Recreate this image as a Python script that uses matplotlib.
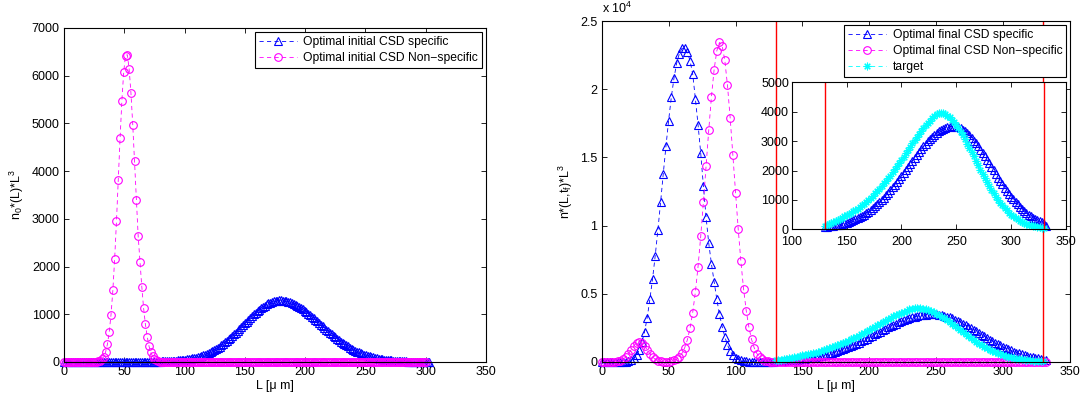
import numpy as np
import matplotlib
matplotlib.use('Agg')
import matplotlib.pyplot as plt

plt.rcParams['font.family'] = ['Liberation Sans', 'DejaVu Sans']
plt.rcParams['mathtext.default'] = 'regular'

# 颜色 (MATLAB 风格)
c_spec = '#0000FF'
c_nonspec = '#FF00FF'
c_target = '#00FFFF'
c_red = '#FF0000'

# ---------------- 数据 ----------------
# 左图: 初始 CSD, 横坐标网格
L_left_nonspec = np.linspace(0, 300, 201)
L_left_spec = np.linspace(0, 303, 203)

left_nonspec = [0] * 16 + [
    1, 2, 6, 13, 28, 58, 113, 210, 372, 625,
    995, 1500, 2160, 2945, 3810, 4690, 5480, 6075, 6420, 6440,
    6145, 5640, 4975, 4205, 3405, 2640, 2100, 1580, 1130, 790,
    530, 330, 200, 115, 62, 32, 16, 8, 4, 2] + [0] * 145

left_spec = [0] * 32 + [
    0, 0, 1, 1, 1, 1, 1, 2, 2, 2,
    2, 3, 3, 3, 4, 4, 5, 6, 7, 8,
    9, 10, 12, 14, 16, 18, 20, 22, 25, 28,
    31, 34, 38, 42, 47, 52, 57, 63, 69, 76,
    84, 93, 103, 114, 126, 139, 152, 169, 187, 206,
    226, 248, 271, 296, 322, 350, 378, 409, 440, 473,
    507, 542, 578, 615, 653, 691, 730, 769, 809, 848,
    886, 924, 961, 997, 1033, 1066, 1099, 1129, 1157, 1182,
    1206, 1226, 1245, 1259, 1272, 1281, 1287, 1290, 1290, 1286,
    1281, 1273, 1263, 1250, 1235, 1218, 1199, 1178, 1155, 1130,
    1103, 1075, 1046, 1015, 984, 952, 919, 885, 851, 817,
    782, 748, 714, 680, 646, 613, 580, 548, 517, 487,
    457, 429, 401, 375, 349, 325, 301, 279, 258, 238,
    219, 202, 185, 170, 155, 142, 129, 117, 106, 96,
    87, 78, 70, 63, 57, 51, 45, 40, 36, 32,
    28, 25, 22, 19, 17, 15, 13, 11, 10, 9,
    8, 7, 6, 5, 4, 4, 3, 3, 2, 2,
    2]

# 右图: 最终 CSD
L_right = np.linspace(0, 332, 167)
L_target = np.linspace(130, 330, 101)

right_spec = [0] * 8 + [
    10, 30, 70, 150, 290, 520, 880, 1450, 2200, 3250,
    4600, 6100, 7800, 9700, 11700, 13800, 15800, 17700, 19400, 20800,
    21900, 22600, 23000, 23000, 22700, 22100, 21100, 19300, 17400, 15300,
    12900, 10600, 8700, 7200, 5900, 4600, 3500, 2600, 1850, 1250,
    800, 500, 310, 190, 110, 65, 40, 25, 15, 10,
    6, 4, 3, 2, 1, 1, 0] + [
    80, 88, 97, 107, 119, 132, 147, 163, 181, 201,
    223, 248, 275, 305, 338, 373, 412, 454, 499, 547,
    600, 657, 717, 781, 849, 921, 996, 1075, 1157, 1243,
    1332, 1423, 1518, 1615, 1714, 1814, 1916, 2019, 2123, 2226,
    2329, 2431, 2532, 2630, 2725, 2818, 2906, 2990, 3070, 3144,
    3212, 3274, 3328, 3376, 3417, 3449, 3474, 3491, 3499, 3499,
    3487, 3464, 3431, 3386, 3331, 3267, 3193, 3110, 3020, 2924,
    2820, 2712, 2599, 2483, 2365, 2244, 2123, 2002, 1881, 1762,
    1646, 1532, 1421, 1314, 1211, 1112, 1018, 929, 846, 767,
    693, 624, 560, 501, 447, 398, 352, 311, 274, 240,
    180, 110]

right_nonspec = [
    0, 0, 0, 0, 5, 16, 42, 97, 200, 369,
    608, 898, 1185, 1400, 1480, 1400, 1185, 898, 608, 369,
    200, 97, 46, 24, 22, 34, 63, 118, 215, 376,
    635, 1036, 1620, 2472, 3625, 5129, 6998, 9216, 11711, 14377,
    17011, 19435, 21431, 22808, 23424, 23197, 22109, 20277, 17895, 15196,
    12417, 9765, 7389, 5379, 3771, 2544, 1651, 1030, 619, 358,
    199, 106, 54, 27, 13, 6, 3, 1] + [0] * 99

target = [
    120, 150, 180, 215, 250, 285, 320, 360, 400, 440,
    480, 522, 564, 606, 648, 690, 750, 810, 870, 930,
    990, 1068, 1146, 1224, 1302, 1380, 1470, 1560, 1650, 1740,
    1830, 1936, 2042, 2148, 2254, 2360, 2472, 2584, 2696, 2808,
    2920, 3026, 3132, 3238, 3344, 3450, 3534, 3618, 3700, 3770,
    3850, 3915, 3955, 3960, 3943, 3912, 3867, 3806, 3733, 3646,
    3548, 3439, 3320, 3193, 3058, 2918, 2774, 2626, 2477, 2327,
    2177, 2030, 1885, 1743, 1605, 1473, 1346, 1226, 1112, 1005,
    904, 811, 724, 644, 570, 503, 442, 387, 338, 293,
    254, 219, 188, 161, 137, 116, 98, 83, 69, 58,
    48]

# 区间边界 (红线)
L_bounds = [130, 330]

left_labels = ['Optimal initial CSD specific', 'Optimal initial CSD Non\u2212specific']
right_labels = ['Optimal final CSD specific', 'Optimal final CSD Non\u2212specific', 'target']
right_yticks = [0, 5000, 10000, 15000, 20000, 25000]
right_yticklabels = ['0', '0.5', '1', '1.5', '2', '2.5']


# 画一条带标记的虚线
def drawSeries(ax, x, y, color, marker, label=None, ms=5.5):
    ax.plot(x, y, color=color, linestyle=(0, (5, 4)), linewidth=0.6,
            marker=marker, markersize=ms, markerfacecolor='none',
            markeredgecolor=color, markeredgewidth=0.8, label=label, clip_on=False)


# MATLAB 风格坐标轴
def styleAx(ax):
    ax.tick_params(direction='in', top=True, right=True, length=3.5, width=0.6,
                   labelsize=9, pad=3)
    for s in ax.spines.values():
        s.set_linewidth(0.8)


def addLegend(ax):
    leg = ax.legend(loc='upper right', fontsize=8.7, fancybox=False, edgecolor='black',
                    framealpha=1, borderaxespad=0.35, handlelength=3.2,
                    labelspacing=0.35, borderpad=0.3, handletextpad=0.5)
    leg.get_frame().set_linewidth(0.8)


fig = plt.figure(figsize=(10.83, 3.97), dpi=100)

# 左图
ax1 = fig.add_axes([0.0591, 0.0882, 0.3897, 0.8413])
drawSeries(ax1, L_left_spec, left_spec, c_spec, '^', left_labels[0])
drawSeries(ax1, L_left_nonspec, left_nonspec, c_nonspec, 'o', left_labels[1])
ax1.set_xlim(0, 350)
ax1.set_ylim(0, 7000)
ax1.set_xticks(range(0, 351, 50))
ax1.set_yticks(range(0, 7001, 1000))
ax1.set_xlabel('L [\u03bc m]', fontsize=9, labelpad=1)
ax1.set_ylabel('n$_0$*(L)*L$^3$', fontsize=9, labelpad=4)
styleAx(ax1)
addLegend(ax1)

# 右图
ax2 = fig.add_axes([0.5556, 0.0882, 0.4324, 0.8589])
drawSeries(ax2, L_right, right_spec, c_spec, '^', right_labels[0])
drawSeries(ax2, L_right, right_nonspec, c_nonspec, 'o', right_labels[1])
drawSeries(ax2, L_target, target, c_target, (8, 2, 0), right_labels[2])
for b in L_bounds:
    ax2.axvline(b, color=c_red, linewidth=1.0)
ax2.set_xlim(0, 350)
ax2.set_ylim(0, 25000)
ax2.set_xticks(range(0, 351, 50))
ax2.set_yticks(right_yticks)
ax2.set_yticklabels(right_yticklabels)
ax2.set_xlabel('L [\u03bc m]', fontsize=9, labelpad=1)
ax2.set_ylabel('n*(L,t$_f$)*L$^3$', fontsize=9, labelpad=4)
ax2.text(0, 1.015, 'x 10$^4$', transform=ax2.transAxes, fontsize=9,
         ha='left', va='bottom')
styleAx(ax2)
addLegend(ax2)

# 插图
ax3 = fig.add_axes([0.7310, 0.4224, 0.2533, 0.3703])
drawSeries(ax3, L_right[65:], right_spec[65:], c_spec, '^')
drawSeries(ax3, L_target, target, c_target, (8, 2, 0))
for b in L_bounds:
    ax3.axvline(b, color=c_red, linewidth=1.0)
ax3.set_xlim(100, 350)
ax3.set_ylim(0, 5000)
ax3.set_xticks(range(100, 351, 50))
ax3.set_yticks(range(0, 5001, 1000))
styleAx(ax3)
ax3.tick_params(axis='x', pad=5)
ax3.tick_params(axis='y', pad=2)

fig.savefig('out.png', dpi=100)
